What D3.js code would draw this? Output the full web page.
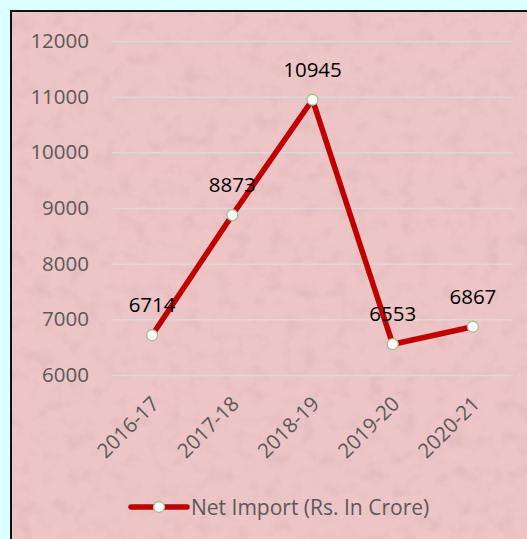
<!DOCTYPE html>
<html>
<head>
<meta charset="utf-8">
<script src="https://cdn.jsdelivr.net/npm/d3@7"></script>
<style>
html,body{margin:0;padding:0;background:#ddffff;}
svg{display:block;}
</style>
</head>
<body>
<svg id="chart" width="527" height="539"></svg>
<script>
const categories = ["2016-17", "2017-18", "2018-19", "2019-20", "2020-21"];
const netImport = [6714, 8873, 10945, 6553, 6867];
const yTicks = [6000, 7000, 8000, 9000, 10000, 11000, 12000];
const seriesName = "Net Import (Rs. In Crore)";

const svg = d3.select("#chart");
const W = 527, H = 539;
const font = "'Open Sans', 'DejaVu Sans', sans-serif";

svg.append("rect").attr("x", 0).attr("y", 0).attr("width", W).attr("height", H).attr("fill", "#ddffff");

const defs = svg.append("defs");
const filt = defs.append("filter").attr("id", "tex").attr("x", 0).attr("y", 0).attr("width", 1).attr("height", 1);
filt.append("feTurbulence").attr("type", "fractalNoise").attr("baseFrequency", "0.06").attr("numOctaves", 4).attr("seed", 11).attr("result", "n");
filt.append("feColorMatrix").attr("in", "n").attr("type", "matrix")
  .attr("values", "0 0 0 0 0.62  0 0 0 0 0.40  0 0 0 0 0.42  2.0 0 0 0 -0.95");

svg.append("rect").attr("x", 11).attr("y", 11).attr("width", W).attr("height", H)
  .attr("fill", "#eec5c6");
svg.append("rect").attr("x", 12).attr("y", 12).attr("width", W).attr("height", H)
  .attr("fill", "#fff").attr("filter", "url(#tex)").attr("opacity", 0.4);
svg.append("rect").attr("x", 11).attr("y", 11).attr("width", W + 10).attr("height", H + 10)
  .attr("fill", "none").attr("stroke", "#111").attr("stroke-width", 2);

const x = d3.scaleBand().domain(categories).range([112, 513]).padding(0);
const y = d3.scaleLinear().domain([6000, 12000]).range([375, 41]);

const yAxis = d3.axisLeft(y).tickValues(yTicks).tickSize(-(513 - 112)).tickPadding(23).tickFormat(d3.format("d"));
const gy = svg.append("g").attr("transform", "translate(112,0)").call(yAxis);
gy.select(".domain").remove();
gy.selectAll(".tick line").attr("stroke", "#d9d9d9").attr("stroke-width", 1.5);
gy.selectAll(".tick text").attr("fill", "#595959").attr("font-family", font).attr("font-size", "20.5px");

const xAxis = d3.axisBottom(x).tickSize(0).tickPadding(0);
const gx = svg.append("g").attr("transform", "translate(0,400)").call(xAxis);
gx.select(".domain").remove();
gx.selectAll(".tick text")
  .attr("fill", "#595959").attr("font-family", font).attr("font-size", "20.5px")
  .attr("text-anchor", "end").attr("dy", "0.35em").attr("y", 0)
  .attr("transform", "translate(3,0) rotate(-45)");

const cx = d => x(d) + x.bandwidth() / 2;
const pts = categories.map((c, i) => ({c, v: netImport[i]}));

const line = d3.line().x(d => cx(d.c)).y(d => y(d.v));
svg.append("path").datum(pts).attr("d", line)
  .attr("fill", "none").attr("stroke", "#c00000").attr("stroke-width", 5.5)
  .attr("stroke-linejoin", "round").attr("stroke-linecap", "round");

svg.selectAll("circle.pt").data(pts).enter().append("circle").attr("class", "pt")
  .attr("cx", d => cx(d.c)).attr("cy", d => y(d.v)).attr("r", 5.5)
  .attr("fill", "#fff").attr("stroke", "#a3bf8c").attr("stroke-width", 1.3);

svg.selectAll("text.lbl").data(pts).enter().append("text").attr("class", "lbl")
  .attr("x", d => cx(d.c)).attr("y", d => y(d.v) - 23)
  .attr("text-anchor", "middle").attr("font-family", font).attr("font-size", "20.5px")
  .attr("fill", "#000").text(d => d3.format("d")(d.v));

const lg = svg.append("g");
lg.append("line").attr("x1", 131).attr("x2", 187).attr("y1", 507).attr("y2", 507)
  .attr("stroke", "#c00000").attr("stroke-width", 5.5).attr("stroke-linecap", "round");
lg.append("circle").attr("cx", 159).attr("cy", 507).attr("r", 5.5)
  .attr("fill", "#fff").attr("stroke", "#a3bf8c").attr("stroke-width", 1.3);
lg.append("text").attr("x", 191).attr("y", 507).attr("dy", "0.36em")
  .attr("font-family", font).attr("font-size", "21px").attr("fill", "#595959").text(seriesName);
</script>
</body>
</html>
